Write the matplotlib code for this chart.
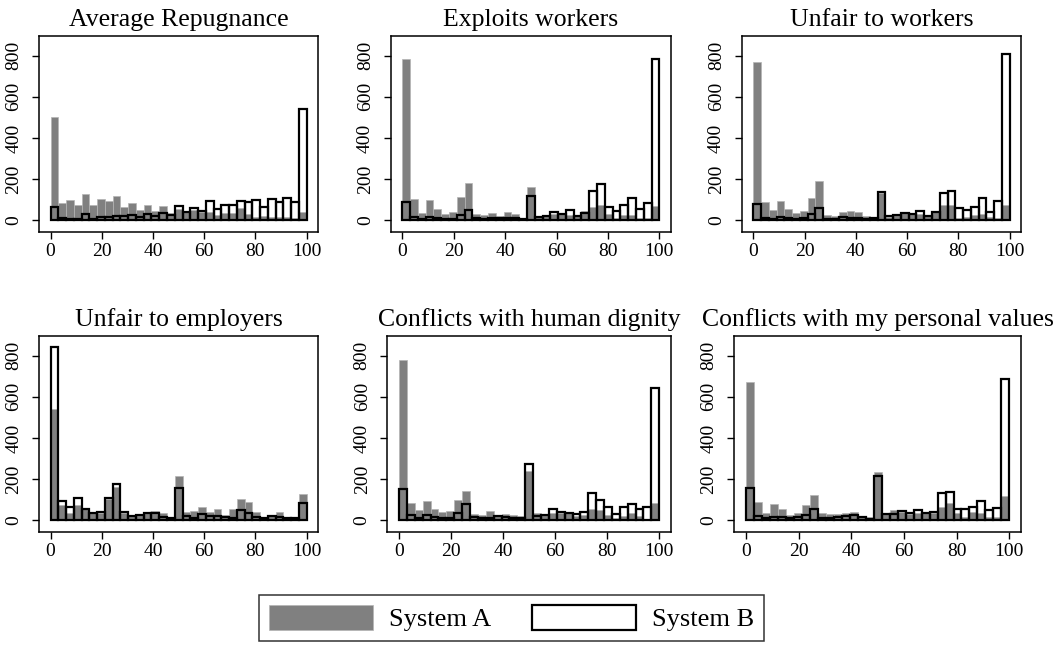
import numpy as np
import matplotlib
matplotlib.use('Agg')
import matplotlib.pyplot as plt
from matplotlib.patches import Patch

plt.rcParams['font.family'] = ['Liberation Serif', 'DejaVu Serif']

# 33 bins of equal width on 0..100
bin_edges = np.linspace(0, 100, 34)

titles = ["Average Repugnance", "Exploits workers", "Unfair to workers",
          "Unfair to employers", "Conflicts with human dignity",
          "Conflicts with my personal values"]

avg_a = [500, 83, 97, 76, 126, 76, 102, 92, 120, 65, 83, 50, 75, 47, 68, 37, 55,
         42, 50, 42, 42, 26, 37, 37, 58, 31, 18, 21, 15, 15, 15, 11, 42]
avg_b = [63, 11, 8, 8, 31, 8, 18, 18, 21, 23, 24, 15, 31, 21, 34, 26, 68,
         42, 62, 45, 92, 57, 73, 73, 96, 91, 99, 66, 105, 89, 110, 89, 540]

exploit_a = [784, 102, 37, 99, 55, 29, 42, 112, 180, 31, 26, 36, 21, 39, 32, 10, 162,
             18, 21, 32, 31, 26, 21, 44, 66, 75, 32, 13, 26, 24, 10, 11, 68]
exploit_b = [91, 16, 8, 15, 11, 5, 6, 26, 52, 10, 5, 11, 10, 11, 13, 8, 120,
             18, 21, 42, 32, 49, 21, 37, 141, 178, 66, 47, 73, 107, 55, 86, 782]

unfair_w_a = [767, 91, 50, 92, 55, 36, 45, 107, 191, 24, 21, 42, 45, 39, 19, 18, 131,
              18, 32, 39, 34, 29, 23, 40, 73, 73, 13, 18, 26, 32, 18, 10, 76]
unfair_w_b = [81, 13, 8, 18, 10, 5, 13, 31, 62, 8, 6, 18, 13, 11, 8, 13, 138,
              21, 26, 36, 32, 45, 19, 40, 134, 144, 62, 49, 66, 110, 40, 94, 806]

unfair_e_a = [540, 75, 34, 75, 55, 34, 37, 105, 160, 37, 26, 31, 37, 45, 37, 13, 217,
              40, 45, 63, 39, 53, 26, 55, 105, 89, 40, 10, 26, 40, 8, 8, 128]
unfair_e_b = [840, 96, 63, 110, 55, 34, 40, 107, 178, 39, 21, 28, 34, 34, 18, 13, 159,
              21, 11, 32, 19, 21, 16, 10, 52, 37, 18, 11, 21, 16, 11, 11, 86]

dignity_a = [780, 86, 49, 94, 55, 42, 45, 97, 141, 29, 24, 45, 23, 32, 24, 23, 238,
             36, 32, 34, 34, 40, 19, 28, 53, 49, 28, 11, 23, 34, 23, 8, 86]
dignity_b = [154, 24, 13, 26, 18, 10, 13, 34, 81, 18, 10, 13, 19, 18, 13, 10, 275,
             19, 28, 53, 40, 37, 29, 42, 134, 99, 66, 31, 66, 79, 53, 66, 643]

values_a = [670, 91, 37, 78, 53, 28, 36, 76, 125, 34, 29, 29, 37, 42, 23, 18, 233,
            32, 49, 42, 31, 37, 36, 34, 66, 86, 34, 15, 39, 37, 16, 18, 120]
values_b = [155, 23, 10, 15, 18, 11, 16, 26, 55, 10, 13, 15, 21, 24, 15, 8, 215,
            29, 31, 47, 34, 50, 36, 39, 131, 139, 57, 55, 63, 92, 50, 58, 686]

series_a = [avg_a, exploit_a, unfair_w_a, unfair_e_a, dignity_a, values_a]
series_b = [avg_b, exploit_b, unfair_w_b, unfair_e_b, dignity_b, values_b]

W, H = 1056, 646
boxes = [(39, 35.7, 318, 231.7), (390.7, 35.7, 670.7, 231.7), (741.7, 35.7, 1021, 231.7),
         (39, 335.7, 318, 531.7), (387.3, 335.7, 670.7, 531.7), (734, 335.7, 1021, 531.7)]

gray = '#808080'
fig = plt.figure(figsize=(W / 100, H / 100), dpi=100)

for title, a, b, (l, t, r, btm) in zip(titles, series_a, series_b, boxes):
    ax = fig.add_axes([l / W, 1 - btm / H, (r - l) / W, (btm - t) / H])
    widths = np.diff(bin_edges)
    ax.bar(bin_edges[:-1], a, width=widths, align='edge', color=gray,
           edgecolor='#b4b4b4', linewidth=0.5, zorder=2)
    ax.bar(bin_edges[:-1], b, width=widths, align='edge', fill=False,
           edgecolor='black', linewidth=1.6, zorder=3)
    ax.set_xlim(-4.5, 104.4)
    ax.set_ylim(-55, 897)
    ax.set_xticks([0, 20, 40, 60, 80, 100])
    ax.set_yticks([0, 200, 400, 600, 800])
    ax.tick_params(axis='both', labelsize=14, length=5, width=1, color='black')
    ax.tick_params(axis='x', pad=3)
    ax.tick_params(axis='y', pad=7)
    for lab in ax.get_yticklabels():
        lab.set_rotation(90)
        lab.set_va('center')
    for sp in ax.spines.values():
        sp.set_linewidth(1.1)
    ax.set_title(title, fontsize=18.5, pad=7)

handles = [Patch(facecolor=gray, edgecolor='#b4b4b4', linewidth=0.5, label='System A'),
           Patch(facecolor='white', edgecolor='black', linewidth=1.6, label='System B')]
leg = fig.legend(handles=handles, loc='center', bbox_to_anchor=(0.4845, 0.0433), ncol=2,
                 fontsize=19, frameon=True, fancybox=False, handlelength=3.94,
                 handleheight=1.1, handletextpad=0.6, columnspacing=1.55,
                 borderpad=0.37, borderaxespad=0)
leg.get_frame().set_edgecolor('black')
leg.get_frame().set_linewidth(1.1)

fig.savefig('out.png', dpi=100)
